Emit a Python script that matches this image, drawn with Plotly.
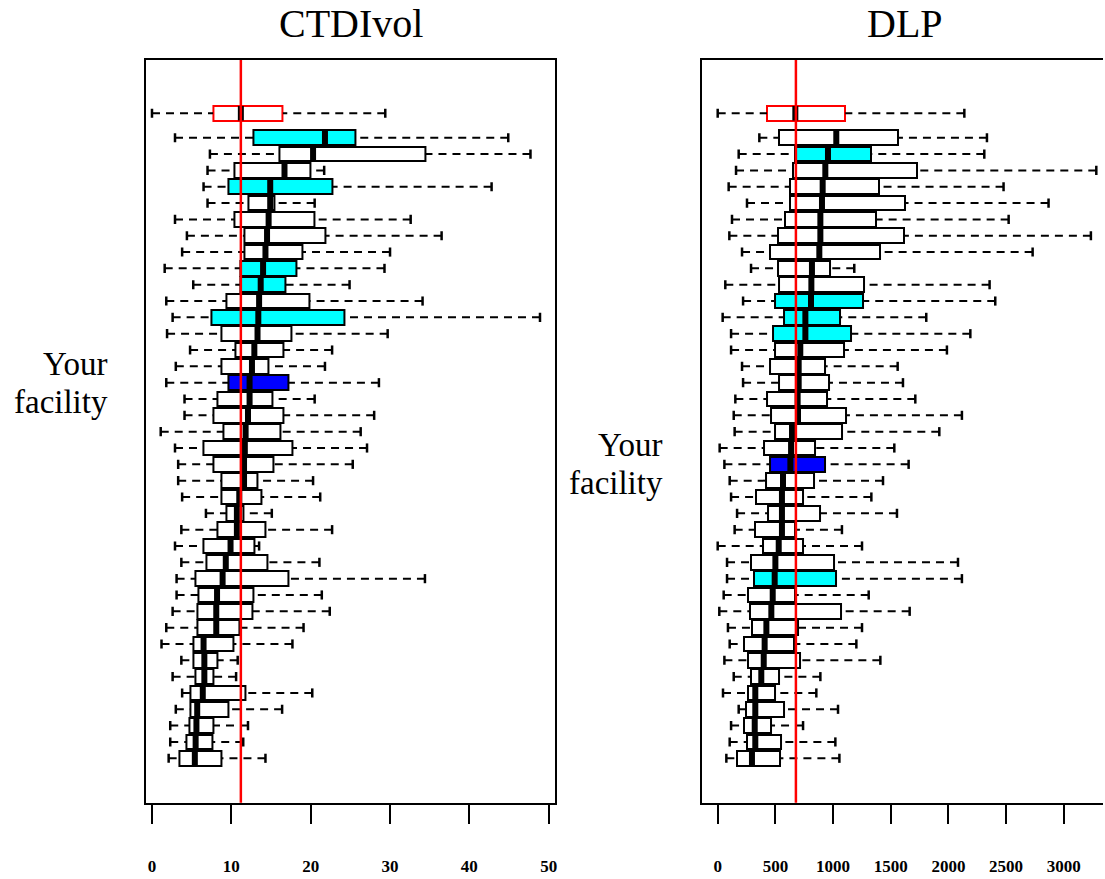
import plotly.graph_objects as go

# ---------------- data (rows listed top to bottom; row 1 = overall reference box) -------------
ct_lo  = [0.0, 2.9, 7.3, 7.0, 6.5, 7.0, 2.9, 4.4, 3.8, 1.6, 5.2, 1.8, 2.6, 1.9, 4.8, 3.0, 1.8, 4.1, 4.1, 1.1,
          2.9, 3.3, 3.3, 3.8, 6.8, 3.7, 2.9, 3.7, 3.1, 3.1, 2.6, 1.8, 1.2, 3.7, 2.6, 3.8, 3.0, 2.3, 2.3, 2.1]
ct_q1  = [7.7, 12.8, 16.0, 10.4, 9.6, 12.1, 10.4, 11.6, 11.6, 11.2, 11.2, 9.4, 7.5, 8.7, 10.5, 8.7, 9.6, 8.3, 7.8, 9.0,
          6.5, 7.7, 8.7, 8.7, 9.4, 8.2, 6.5, 6.8, 5.5, 5.9, 5.7, 5.7, 5.2, 5.2, 5.5, 4.9, 4.8, 4.7, 4.3, 3.5]
ct_med = [11.2, 21.8, 20.3, 16.7, 14.9, 14.9, 14.7, 14.5, 14.3, 14.0, 13.7, 13.5, 13.4, 13.3, 12.9, 12.6, 12.3, 12.3, 12.1, 11.8,
          11.7, 11.6, 11.6, 11.0, 10.7, 10.7, 9.9, 9.3, 8.9, 8.2, 8.1, 8.1, 6.5, 6.6, 6.6, 6.4, 5.7, 5.6, 5.5, 5.4]
ct_q3  = [16.5, 25.7, 34.4, 20.0, 22.8, 15.4, 20.5, 21.8, 19.0, 18.2, 16.8, 19.8, 24.2, 17.6, 16.6, 14.7, 17.2, 15.2, 16.6, 16.2,
          17.7, 15.3, 13.3, 13.8, 11.5, 14.3, 12.9, 14.5, 17.2, 12.8, 12.6, 11.0, 10.3, 8.2, 7.8, 11.8, 9.6, 7.7, 7.6, 8.7]
ct_hi  = [29.4, 44.9, 47.7, 21.7, 42.8, 20.5, 32.6, 36.5, 30.0, 29.3, 24.9, 34.1, 48.9, 29.7, 22.7, 21.8, 28.6, 20.5, 28.0, 26.3,
          27.1, 25.3, 20.3, 21.2, 15.1, 22.7, 13.5, 21.1, 34.4, 21.4, 22.4, 19.1, 17.7, 10.8, 10.6, 20.2, 16.4, 12.1, 11.5, 14.3]
ct_ref = 11.2
ct_cyan_rows = [2, 5, 10, 11, 13]
ct_blue_row = 17

dlp_lo  = [0, 361, 182, 159, 95, 254, 124, 101, 211, 289, 66, 220, 43, 116, 116, 211, 220, 153, 139, 147,
           17, 58, 104, 116, 168, 147, 0, 81, 81, 52, 14, 89, 104, 58, 139, 46, 182, 116, 104, 75]
dlp_q1  = [427, 529, 667, 653, 630, 624, 587, 520, 457, 520, 535, 494, 572, 477, 500, 457, 535, 427, 462, 500,
           405, 457, 419, 332, 436, 326, 390, 289, 312, 263, 283, 297, 225, 263, 289, 263, 246, 225, 254, 168]
dlp_med = [673, 1028, 956, 933, 910, 904, 890, 890, 881, 817, 812, 809, 760, 760, 716, 702, 702, 693, 696, 644,
           636, 630, 566, 557, 557, 557, 529, 500, 494, 477, 465, 422, 407, 399, 378, 326, 326, 321, 326, 297]
dlp_q3  = [1106, 1563, 1332, 1727, 1401, 1626, 1375, 1618, 1404, 971, 1271, 1259, 1057, 1155, 1098, 927, 968, 947, 1115, 1077,
           847, 927, 832, 737, 884, 673, 740, 1011, 1025, 673, 1069, 696, 659, 716, 535, 500, 572, 462, 552, 543]
dlp_hi  = [2138, 2334, 2311, 3282, 2478, 2868, 2522, 3235, 2730, 1184, 2357, 2406, 1808, 2190, 1987, 1560, 1606, 1713, 2117, 1921,
           1531, 1655, 1433, 1332, 1554, 1077, 1251, 2083, 2117, 1309, 1664, 1251, 1202, 1410, 890, 855, 1043, 740, 1020, 1055]
dlp_ref = 678
dlp_cyan_rows = [3, 12, 13, 14, 29]
dlp_blue_row = 22

ct_ticks = [0, 10, 20, 30, 40, 50]
dlp_ticks = [0, 500, 1000, 1500, 2000, 2500, 3000]
titles = ["CTDIvol", "DLP"]
label_lines = ["Your", "facility"]

# ---------------- layout helpers ----------------
W, H = 1105, 879
n = len(ct_med)
pos = [n + 0.5] + [n - k for k in range(1, n)]   # top reference row sits 1.5 rows above the rest
HALF = 0.45
CAP = 0.28

SERIF = "Liberation Serif, Times New Roman, serif"


def colours(cyan_rows, blue_row):
    fills, lines = [], []
    for i in range(n):
        r = i + 1
        if r == 1:
            fills.append("white"); lines.append("red")
        elif r == blue_row:
            fills.append("#0000ff"); lines.append("black")
        elif r in cyan_rows:
            fills.append("#00ffff"); lines.append("black")
        else:
            fills.append("white"); lines.append("black")
    return fills, lines


def panel(fig, lo, q1, med, q3, hi, cyan_rows, blue_row, xa, ya):
    fills, lines = colours(cyan_rows, blue_row)
    # whiskers (dashed, drawn from the cap toward the box)
    wx, wy = [], []
    for i in range(n):
        wx += [lo[i], q1[i], None, hi[i], q3[i], None]
        wy += [pos[i], pos[i], None, pos[i], pos[i], None]
    fig.add_trace(go.Scatter(x=wx, y=wy, mode="lines", xaxis=xa, yaxis=ya,
                             line=dict(color="black", width=2, dash="8px,6px"),
                             hoverinfo="skip", showlegend=False))
    # caps
    cx, cy = [], []
    for i in range(n):
        cx += [lo[i], lo[i], None, hi[i], hi[i], None]
        cy += [pos[i] - CAP, pos[i] + CAP, None, pos[i] - CAP, pos[i] + CAP, None]
    fig.add_trace(go.Scatter(x=cx, y=cy, mode="lines", xaxis=xa, yaxis=ya,
                             line=dict(color="black", width=2.5),
                             hoverinfo="skip", showlegend=False))
    # boxes
    fig.add_trace(go.Bar(orientation="h", y=pos, x=[b - a for a, b in zip(q1, q3)], base=q1,
                         width=2 * HALF, xaxis=xa, yaxis=ya,
                         marker=dict(color=fills, line=dict(color=lines, width=2)),
                         showlegend=False))
    # medians
    mx, my = [], []
    for i in range(n):
        mx += [med[i], med[i], None]
        my += [pos[i] - HALF, pos[i] + HALF, None]
    fig.add_trace(go.Scatter(x=mx, y=my, mode="lines", xaxis=xa, yaxis=ya,
                             line=dict(color="black", width=6),
                             hoverinfo="skip", showlegend=False))


fig = go.Figure()
panel(fig, ct_lo, ct_q1, ct_med, ct_q3, ct_hi, ct_cyan_rows, ct_blue_row, "x", "y")
panel(fig, dlp_lo, dlp_q1, dlp_med, dlp_q3, dlp_hi, dlp_cyan_rows, dlp_blue_row, "x2", "y2")

# reference lines
fig.add_shape(type="line", xref="x", yref="y domain", x0=ct_ref, x1=ct_ref, y0=0, y1=1,
              line=dict(color="red", width=2.5), layer="above")
fig.add_shape(type="line", xref="x2", yref="y2 domain", x0=dlp_ref, x1=dlp_ref, y0=0, y1=1,
              line=dict(color="red", width=2.5), layer="above")

ydom = [(H - 802.7) / H, (H - 60) / H]
yrange = [-1.72, 43.76]
tickfont = dict(family=SERIF, size=17, color="black", weight="bold")
axis_common = dict(showgrid=False, zeroline=False, showline=True, linecolor="black", linewidth=2,
                   ticks="outside", ticklen=19, tickwidth=2, tickcolor="black",
                   tickfont=tickfont, ticklabelstandoff=28)

fig.update_layout(
    width=W, height=H,
    margin=dict(l=0, r=0, t=0, b=0),
    paper_bgcolor="white", plot_bgcolor="white",
    barmode="overlay", bargap=0,
    showlegend=False,
    xaxis=dict(domain=[146.7 / W, 556 / W], range=[-0.70, 50.79], tickvals=ct_ticks,
               ticktext=[str(t) for t in ct_ticks], mirror=True, anchor="y", **axis_common),
    yaxis=dict(domain=ydom, range=yrange, showgrid=False, zeroline=False, showticklabels=False,
               showline=True, mirror=True, linecolor="black", linewidth=2, ticks="", anchor="x"),
    xaxis2=dict(domain=[703.3 / W, 1.0], range=[-135.8, 3340], tickvals=dlp_ticks,
                ticktext=[str(t) for t in dlp_ticks], mirror=True, anchor="y2", **axis_common),
    yaxis2=dict(domain=ydom, range=yrange, showgrid=False, zeroline=False, showticklabels=False,
                showline=True, mirror=False, linecolor="black", linewidth=2, ticks="", anchor="x2"),
)

# titles
for txt, xc in zip(titles, [351.3 / W, 906.5 / W]):
    fig.add_annotation(text=txt, xref="paper", yref="paper", x=xc, y=1.0,
                       xanchor="center", yanchor="top", showarrow=False, borderpad=0,
                       font=dict(family=SERIF, size=40, color="black"))

# "Your facility" labels, aligned with the highlighted (blue) row of each panel
for ya, blue_row, xr in [("y", ct_blue_row, 110 / W), ("y2", dlp_blue_row, 666 / W)]:
    yb = pos[blue_row - 1]
    for txt, sh in zip(label_lines, [19, -19]):
        fig.add_annotation(text=txt, xref="paper", yref=ya, x=xr, y=yb, yshift=sh,
                           xanchor="right", yanchor="middle", showarrow=False,
                           font=dict(family=SERIF, size=33, color="black"))

fig.write_html("out.html")
